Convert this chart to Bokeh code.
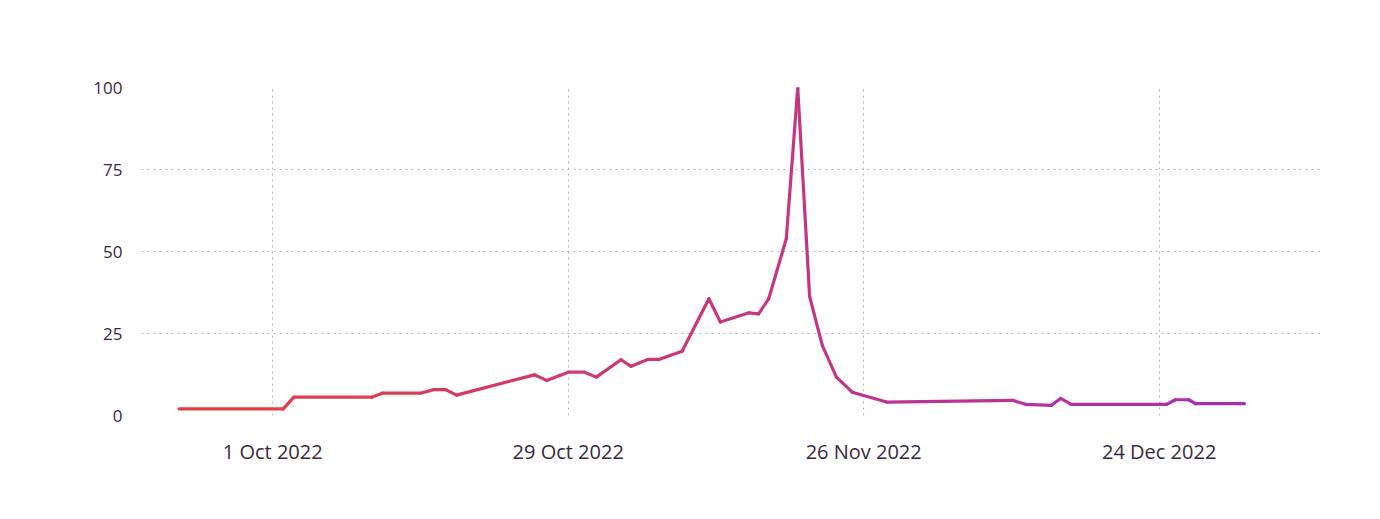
import pandas as pd
from bokeh.plotting import figure
from bokeh.models import FixedTicker, Range1d, ColumnDataSource
from bokeh.embed import file_html
from bokeh.resources import INLINE

# ---- data ----
dates = [
    "2022-09-22 03:00", "2022-10-02 00:00", "2022-10-03 00:00", "2022-10-10 10:00",
    "2022-10-11 09:00", "2022-10-15 00:00", "2022-10-16 06:00", "2022-10-17 09:00",
    "2022-10-18 10:00", "2022-10-25 19:00", "2022-10-26 23:00", "2022-10-29 00:00",
    "2022-10-30 13:00", "2022-10-31 16:00", "2022-11-03 00:00", "2022-11-03 23:00",
    "2022-11-05 13:00", "2022-11-06 14:00", "2022-11-08 19:00", "2022-11-11 08:00",
    "2022-11-12 10:00", "2022-11-15 03:00", "2022-11-16 01:00", "2022-11-17 00:00",
    "2022-11-18 16:00", "2022-11-19 18:00", "2022-11-20 21:00", "2022-11-22 02:00",
    "2022-11-23 10:00", "2022-11-24 22:00", "2022-11-28 04:00", "2022-12-10 04:00",
    "2022-12-11 08:00", "2022-12-13 19:00", "2022-12-14 16:00", "2022-12-15 16:00",
    "2022-12-24 17:00", "2022-12-25 13:00", "2022-12-26 19:00", "2022-12-27 11:00",
    "2023-01-01 02:00",
]
values = [
    2.0, 2.0, 5.6, 5.6,
    6.8, 6.8, 7.9, 7.9,
    6.2, 12.4, 10.7, 13.2,
    13.2, 11.7, 17.0, 15.0,
    17.1, 17.1, 19.6, 35.6,
    28.5, 31.3, 31.0, 35.6,
    53.9, 100.0, 36.3, 21.3,
    11.7, 7.1, 4.1, 4.6,
    3.4, 3.1, 5.2, 3.4,
    3.4, 4.8, 4.8, 3.6,
    3.6,
]
x_tick_dates = ["2022-10-01", "2022-10-29", "2022-11-26", "2022-12-24"]
x_tick_labels = ["1 Oct 2022", "29 Oct 2022", "26 Nov 2022", "24 Dec 2022"]
y_ticks = [0, 25, 50, 75, 100]

# ---- style ----
START_COLOR = (232, 65, 62)
END_COLOR = (169, 46, 182)
TEXT = "#3a2843"
GRID = "#b4b4b4"
FONT = "Open Sans"


def to_ms(seq):
    return [int(v) // 10**6 for v in pd.to_datetime(seq).asi8]


xs = to_ms(dates)
x_ticks = to_ms(x_tick_dates)
x_start, x_end = to_ms(["2022-09-18 13:30", "2023-01-08 11:30"])

# gradient line as coloured segments
x0, x1, y0, y1, cols = [], [], [], [], []
span = xs[-1] - xs[0]
for i in range(len(xs) - 1):
    f = ((xs[i] + xs[i + 1]) / 2 - xs[0]) / span
    r, g, b = (round(s + (e - s) * f) for s, e in zip(START_COLOR, END_COLOR))
    x0.append(xs[i]); x1.append(xs[i + 1])
    y0.append(values[i]); y1.append(values[i + 1])
    cols.append("#%02x%02x%02x" % (r, g, b))
src = ColumnDataSource(dict(x0=x0, x1=x1, y0=y0, y1=y1, c=cols))

p = figure(
    width=1380, height=519,
    x_axis_type="datetime",
    x_range=Range1d(x_start, x_end),
    y_range=Range1d(0, 100),
    output_backend="svg", toolbar_location=None,
    min_border_left=141, min_border_right=58,
    min_border_top=87, min_border_bottom=104,
)
p.border_fill_color = "white"
p.background_fill_color = "white"
p.outline_line_color = None

p.segment("x0", "y0", "x1", "y1", source=src, line_color="c", line_width=3.2,
          line_cap="round", line_join="round")

# axes
p.xaxis.ticker = FixedTicker(ticks=x_ticks)
p.xaxis.major_label_overrides = {t: lab for t, lab in zip(x_ticks, x_tick_labels)}
p.yaxis.ticker = FixedTicker(ticks=y_ticks)
for ax in (p.xaxis, p.yaxis):
    ax.axis_line_color = None
    ax.major_tick_line_color = None
    ax.minor_tick_line_color = None
    ax.major_tick_out = 0
    ax.major_tick_in = 0
    ax.major_label_text_color = TEXT
    ax.major_label_text_font = FONT
p.xaxis.major_label_text_font_size = "20px"
p.yaxis.major_label_text_font_size = "17px"
p.xaxis.major_label_standoff = 22
p.yaxis.major_label_standoff = 19

for g in (p.xgrid, p.ygrid):
    g.grid_line_color = GRID
    g.grid_line_dash = "2 4"
    g.grid_line_width = 1

open("out.html", "w").write(file_html(p, INLINE))
